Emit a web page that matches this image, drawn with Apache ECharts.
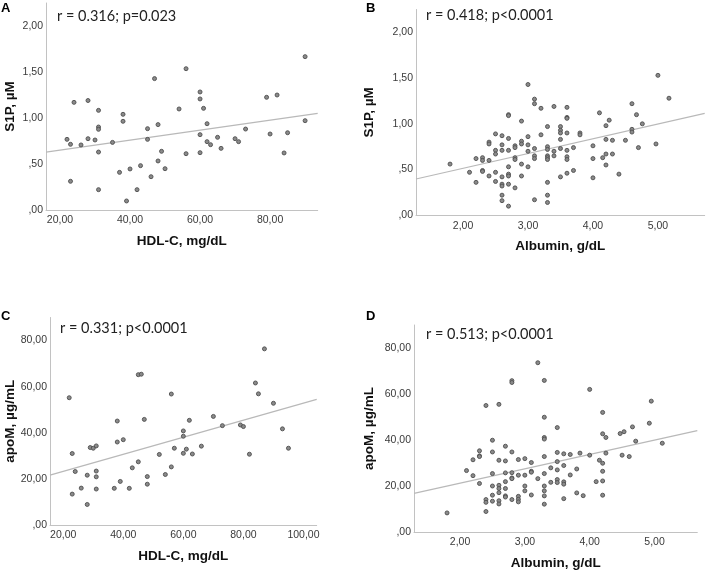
<!DOCTYPE html>
<html><head><meta charset="utf-8">
<script src="https://cdn.jsdelivr.net/npm/echarts@6/dist/echarts.min.js"></script>
<style>html,body{margin:0;padding:0;background:#fff}#c{width:708px;height:572px}</style>
</head><body><div id="c"></div>
<script>
// ---------- DATA ----------
const panelA_hdl = [22,23,23,24,26,28,28,30,31,31,31,31,31,35,37,38,38,39,40,42,43,45,45,46,47,48,48,49,50,54,56,56,60,60,60,60,61,62,62,63,65,66,70,71,73,79,80,82,84,85,90,90];
const panelA_s1p = [0.768,0.714,0.312,1.17,0.707,1.19,0.775,0.761,1.083,0.902,0.877,0.63,0.221,0.735,0.409,1.04,0.964,0.098,0.446,0.221,0.482,0.884,0.768,0.362,1.428,0.928,0.533,0.638,0.449,1.098,1.536,0.612,1.283,1.207,0.819,0.623,1.105,0.938,0.743,0.71,0.79,0.67,0.775,0.743,0.88,1.225,0.826,1.25,0.62,0.84,1.667,0.971];

const panelB_alb = [1.8,2.1,2.2,2.2,2.3,2.3,2.3,2.3,2.4,2.4,2.4,2.4,2.5,2.5,2.5,2.5,2.5,
2.6,2.6,2.6,2.6,2.6,2.6,2.6,2.6,2.7,2.7,2.7,2.7,2.7,2.7,2.7,2.7,2.7,2.8,2.8,2.8,2.8,2.8,
2.9,2.9,2.9,2.9,2.9,3.0,3.0,3.0,3.0,3.0,3.1,3.1,3.1,3.1,3.1,3.1,3.2,3.2,
3.3,3.3,3.3,3.3,3.3,3.3,3.3,3.3,3.3,3.4,3.4,3.4,3.5,3.5,3.5,3.5,3.5,3.5,
3.6,3.6,3.6,3.6,3.6,3.6,3.6,3.6,3.7,3.7,3.8,3.8,4.0,4.0,4.0,4.1,4.15,4.2,4.2,4.2,4.2,4.25,
4.3,4.3,4.4,4.5,4.6,4.6,4.6,4.67,4.7,4.76,4.97,5.0,5.17];
const panelB_s1p = [0.56,0.47,0.62,0.36,0.63,0.60,0.49,0.48,0.80,0.78,0.60,0.43,0.89,0.71,0.67,0.47,0.37,
0.87,0.77,0.71,0.42,0.34,0.32,0.22,0.16,1.10,1.09,0.84,0.71,0.53,0.45,0.43,0.34,0.10,0.76,0.74,0.63,0.61,0.30,
1.03,0.81,0.78,0.56,0.43,1.43,0.86,0.77,0.70,0.53,1.27,1.22,0.73,0.65,0.62,0.17,1.17,0.88,
0.97,0.75,0.72,0.65,0.63,0.61,0.36,0.22,0.14,1.19,0.70,0.65,0.97,0.93,0.90,0.83,0.73,0.42,
1.18,1.07,1.06,0.90,0.71,0.64,0.61,0.46,0.74,0.49,0.90,0.88,0.76,0.62,0.41,1.12,0.63,0.98,0.83,0.67,0.55,1.04,
0.82,0.67,0.45,0.82,1.22,0.94,0.91,1.10,0.74,1.00,0.78,1.53,1.28];

const panelC_hdl = [22,23,23,24,26,28,28,29,30,31,31,31,31,37,38,38,39,40,42,43,45,45,46,47,48,48,52,54,56,56,57,60,60,60,61,62,63,66,70,73,79,80,82,84,85,87,90,93,95];
const panelC_apom = [55.2,31.0,13.4,23.2,16.0,21.6,8.9,33.6,33.3,34.3,23.4,20.9,15.6,15.9,45.1,36.0,18.9,37.0,15.9,24.8,65.2,27.4,65.4,45.8,21.0,17.7,30.6,21.9,56.8,25.2,33.3,40.8,38.5,31.1,32.9,45.4,30.8,34.2,47.1,43.1,43.4,42.7,30.7,61.6,56.9,76.4,52.8,41.7,33.3];

const panelD_alb = [1.8,2.1,2.2,2.2,2.3,2.3,2.3,2.3,2.4,2.4,2.4,2.4,2.5,2.5,2.5,2.5,2.5,2.5,
2.6,2.6,2.6,2.6,2.6,2.6,2.6,2.7,2.7,2.7,2.7,2.7,2.7,2.7,2.8,2.8,2.8,2.8,2.8,2.8,2.8,
2.9,2.9,2.9,2.9,2.9,3.0,3.0,3.0,3.0,3.1,3.1,3.1,3.1,3.2,3.2,
3.3,3.3,3.3,3.3,3.3,3.3,3.3,3.3,3.3,3.3,3.4,3.4,3.5,3.5,3.5,3.5,3.5,3.5,
3.6,3.6,3.6,3.6,3.6,3.7,3.7,3.8,3.8,3.85,3.9,4.0,4.0,4.1,4.15,4.2,4.2,4.2,4.2,4.2,4.2,4.25,4.25,
4.47,4.53,4.5,4.61,4.66,4.71,4.92,4.95,5.12];
const panelD_apom = [8.3,26.7,31.4,24.5,35.3,33.1,32.8,21.1,55.0,14.1,12.9,8.9,39.9,34.8,25.4,20.0,16.0,13.4,
55.5,31.2,20.3,18.9,17.1,13.6,12.2,37.3,30.9,25.7,21.9,18.9,15.7,15.2,65.8,65.0,34.8,25.8,23.5,23.2,14.1,
31.5,24.7,15.5,14.2,13.1,31.9,24.7,20.0,17.9,30.2,26.4,26.0,16.1,73.6,23.2,
65.9,49.9,41.1,40.4,32.8,25.4,20.0,17.9,15.7,12.1,27.9,21.6,45.4,34.6,30.6,27.0,22.8,21.5,
34.0,28.9,21.8,20.8,14.5,33.7,24.8,27.4,17.0,34.3,15.8,62.0,33.4,21.9,31.2,52.0,29.9,26.4,22.2,16.0,42.7,41.1,34.3,
42.8,43.6,33.4,32.8,45.7,39.5,47.3,56.9,38.6];

// fitted line end points
const fitA_x = [16, 93.6],   fitA_y = [0.63, 1.05];
const fitB_x = [1.276, 5.72], fitB_y = [0.397, 1.115];
const fitC_x = [15.6, 104.4], fitC_y = [21.6, 54.5];
const fitD_x = [1.29, 5.66],  fitD_y = [16.8, 44.1];

// tick labels
const ticksHdlA = [20, 40, 60, 80];
const ticksHdlC = [20, 40, 60, 80, 100];
const ticksAlb = [2, 3, 4, 5];
const ticksS1p = [0, 0.5, 1, 1.5, 2];
const ticksApoM = [0, 20, 40, 60, 80];

const panelLetters = ['A', 'B', 'C', 'D'];
const statTexts = ['r = 0.316; p=0.023', 'r = 0.418; p<0.0001', 'r = 0.331; p<0.0001', 'r = 0.513; p<0.0001'];
const xNames = ['HDL-C, mg/dL', 'Albumin, g/dL', 'HDL-C, mg/dL', 'Albumin, g/dL'];
const yNames = ['S1P, µM', 'S1P, µM', 'apoM, µg/mL', 'apoM, µg/mL'];

// ---------- CHART ----------
function fmt(v) {
  let s = v.toFixed(2).replace('.', ',');
  if (s.indexOf('0,') === 0) s = s.slice(1);
  return s;
}
function zip(a, b) { return a.map((v, i) => [v, b[i]]); }

const grids = [
  {left: 46, top: 3, width: 271.7, height: 207},
  {left: 416, top: 9.5, width: 288.7, height: 205.8},
  {left: 50, top: 317.5, width: 266.7, height: 207.5},
  {left: 414, top: 325, width: 283.3, height: 207}
];
const xRanges = [[16, 93.6], [1.276, 5.72], [15.6, 104.4], [1.29, 5.66]];
const yRanges = [[0, 2.25], [0, 2.25], [0, 90], [0, 90]];
const xTicks = [ticksHdlA, ticksAlb, ticksHdlC, ticksAlb];
const yTicks = [ticksS1p, ticksS1p, ticksApoM, ticksApoM];
const yNameGaps = [29, 40, 33, 38];
const pts = [zip(panelA_hdl, panelA_s1p), zip(panelB_alb, panelB_s1p), zip(panelC_hdl, panelC_apom), zip(panelD_alb, panelD_apom)];
const fits = [zip(fitA_x, fitA_y), zip(fitB_x, fitB_y), zip(fitC_x, fitC_y), zip(fitD_x, fitD_y)];

const axisCol = '#c2c2c2';
const labelStyle = {color: '#3a3a3a', fontSize: 10.5, fontFamily: 'Liberation Sans, Arial, sans-serif'};
const nameStyle = {color: '#111', fontSize: 13.5, fontWeight: 'bold', fontFamily: 'Liberation Sans, Arial, sans-serif'};
const statFont = '14.5px Lato';

const option = {
  animation: false,
  backgroundColor: '#fff',
  grid: grids.map(g => Object.assign({containLabel: false, outerBoundsMode: 'none'}, g)),
  xAxis: grids.map((g, i) => ({
    type: 'value', gridIndex: i, min: xRanges[i][0], max: xRanges[i][1],
    axisLine: {show: true, onZero: false, lineStyle: {color: axisCol, width: 1}},
    axisTick: {show: false}, splitLine: {show: false},
    axisLabel: Object.assign({customValues: xTicks[i], formatter: fmt, margin: 5}, labelStyle),
    name: xNames[i], nameLocation: 'middle', nameGap: 24, nameTextStyle: nameStyle
  })),
  yAxis: grids.map((g, i) => ({
    type: 'value', gridIndex: i, min: yRanges[i][0], max: yRanges[i][1],
    axisLine: {show: true, onZero: false, lineStyle: {color: axisCol, width: 1}},
    axisTick: {show: false}, splitLine: {show: false},
    axisLabel: Object.assign({customValues: yTicks[i], formatter: fmt, margin: 3}, labelStyle),
    name: yNames[i], nameLocation: 'middle', nameGap: yNameGaps[i], nameTextStyle: nameStyle
  })),
  series: [].concat(
    fits.map((d, i) => ({
      type: 'line', xAxisIndex: i, yAxisIndex: i, data: d, symbol: 'none', silent: true,
      lineStyle: {color: '#b9b9b9', width: 1.2}, z: 1
    })),
    pts.map((d, i) => ({
      type: 'scatter', xAxisIndex: i, yAxisIndex: i, data: d, symbol: 'circle', symbolSize: 4,
      itemStyle: {color: '#8a8a8a', borderColor: '#4e4e4e', borderWidth: 0.9, opacity: 1}, z: 3
    }))
  ),
  graphic: [
    {type: 'text', x: 1, y: 8, style: {text: panelLetters[0], font: 'bold 13px "Liberation Sans"', fill: '#000', verticalAlign: 'middle'}},
    {type: 'text', x: 366, y: 8, style: {text: panelLetters[1], font: 'bold 13px "Liberation Sans"', fill: '#000', verticalAlign: 'middle'}},
    {type: 'text', x: 1, y: 316, style: {text: panelLetters[2], font: 'bold 13px "Liberation Sans"', fill: '#000', verticalAlign: 'middle'}},
    {type: 'text', x: 366, y: 316, style: {text: panelLetters[3], font: 'bold 13px "Liberation Sans"', fill: '#000', verticalAlign: 'middle'}},
    {type: 'text', x: 57, y: 16, style: {text: statTexts[0], font: statFont, fill: '#222', verticalAlign: 'middle'}},
    {type: 'text', x: 426, y: 15, style: {text: statTexts[1], font: statFont, fill: '#222', verticalAlign: 'middle'}},
    {type: 'text', x: 60, y: 328, style: {text: statTexts[2], font: statFont, fill: '#222', verticalAlign: 'middle'}},
    {type: 'text', x: 426, y: 334, style: {text: statTexts[3], font: statFont, fill: '#222', verticalAlign: 'middle'}}
  ]
};
const chart = echarts.init(document.getElementById('c'), null, {renderer: 'canvas'});
chart.setOption(option);
</script>
</body></html>
